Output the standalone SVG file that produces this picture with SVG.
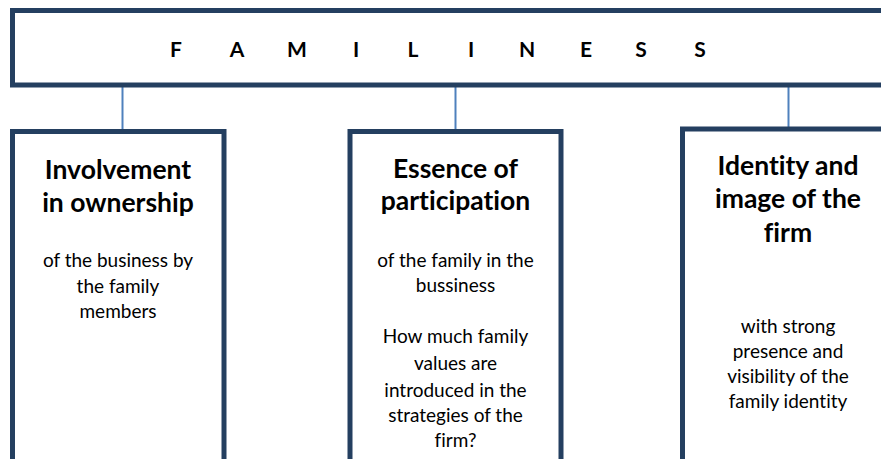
<svg xmlns="http://www.w3.org/2000/svg" width="881" height="459" viewBox="0 0 881 459">
<style>
.box{fill:#fff;stroke:#243F60;stroke-width:5}
.conn{stroke:#4F81BD;stroke-width:2;fill:none}
.title{font-family:Lato,"Liberation Sans",sans-serif;font-weight:bold;font-size:21px;fill:#000;text-anchor:middle}
.head{font-family:Lato,"Liberation Sans",sans-serif;font-weight:bold;font-size:26.5px;fill:#000;text-anchor:middle;font-variant-ligatures:none}
.body{font-family:Lato,"Liberation Sans",sans-serif;font-size:19px;fill:#000;text-anchor:middle;font-variant-ligatures:none}
</style>
<rect width="881" height="459" fill="#fff"/>
<g id="connectors">
<line class="conn" x1="122.5" y1="87" x2="122.5" y2="130"/>
<line class="conn" x1="455.5" y1="87" x2="455.5" y2="130"/>
<line class="conn" x1="788.5" y1="87" x2="788.5" y2="127"/>
</g>
<g id="familiness">
<rect class="box" x="12.5" y="10.5" width="880" height="74.5"/>
<text class="title" y="57"><tspan x="176">F</tspan><tspan x="237">A</tspan><tspan x="297">M</tspan><tspan x="356">I</tspan><tspan x="413">L</tspan><tspan x="471">I</tspan><tspan x="527">N</tspan><tspan x="586">E</tspan><tspan x="641">S</tspan><tspan x="700">S</tspan></text>
</g>
<g id="ownership">
<rect class="box" x="12.5" y="131.5" width="211.5" height="340"/>
<text class="head"><tspan x="118" y="179">Involvement</tspan><tspan x="118" y="212">in ownership</tspan></text>
<text class="body"><tspan x="118" y="267">of the business by</tspan><tspan x="118" y="293">the family</tspan><tspan x="118" y="318">members</tspan></text>
</g>
<g id="participation">
<rect class="box" x="350" y="131.5" width="211" height="340"/>
<text class="head"><tspan x="455.5" y="178">Essence of</tspan><tspan x="455.5" y="210">participation</tspan></text>
<text class="body"><tspan x="455.5" y="267">of the family in the</tspan><tspan x="455.5" y="292">bussiness</tspan><tspan x="455.5" y="343">How much family</tspan><tspan x="455.5" y="370">values are</tspan><tspan x="455.5" y="397">introduced in the</tspan><tspan x="455.5" y="422">strategies of the</tspan><tspan x="455.5" y="447">firm?</tspan></text>
</g>
<g id="identity">
<rect class="box" x="682.5" y="129" width="230" height="345"/>
<text class="head"><tspan x="788" y="175">Identity and</tspan><tspan x="788" y="208">image of the</tspan><tspan x="788" y="242">firm</tspan></text>
<text class="body"><tspan x="788" y="333">with strong</tspan><tspan x="788" y="358">presence and</tspan><tspan x="788" y="383">visibility of the</tspan><tspan x="788" y="408">family identity</tspan></text>
</g>
</svg>
